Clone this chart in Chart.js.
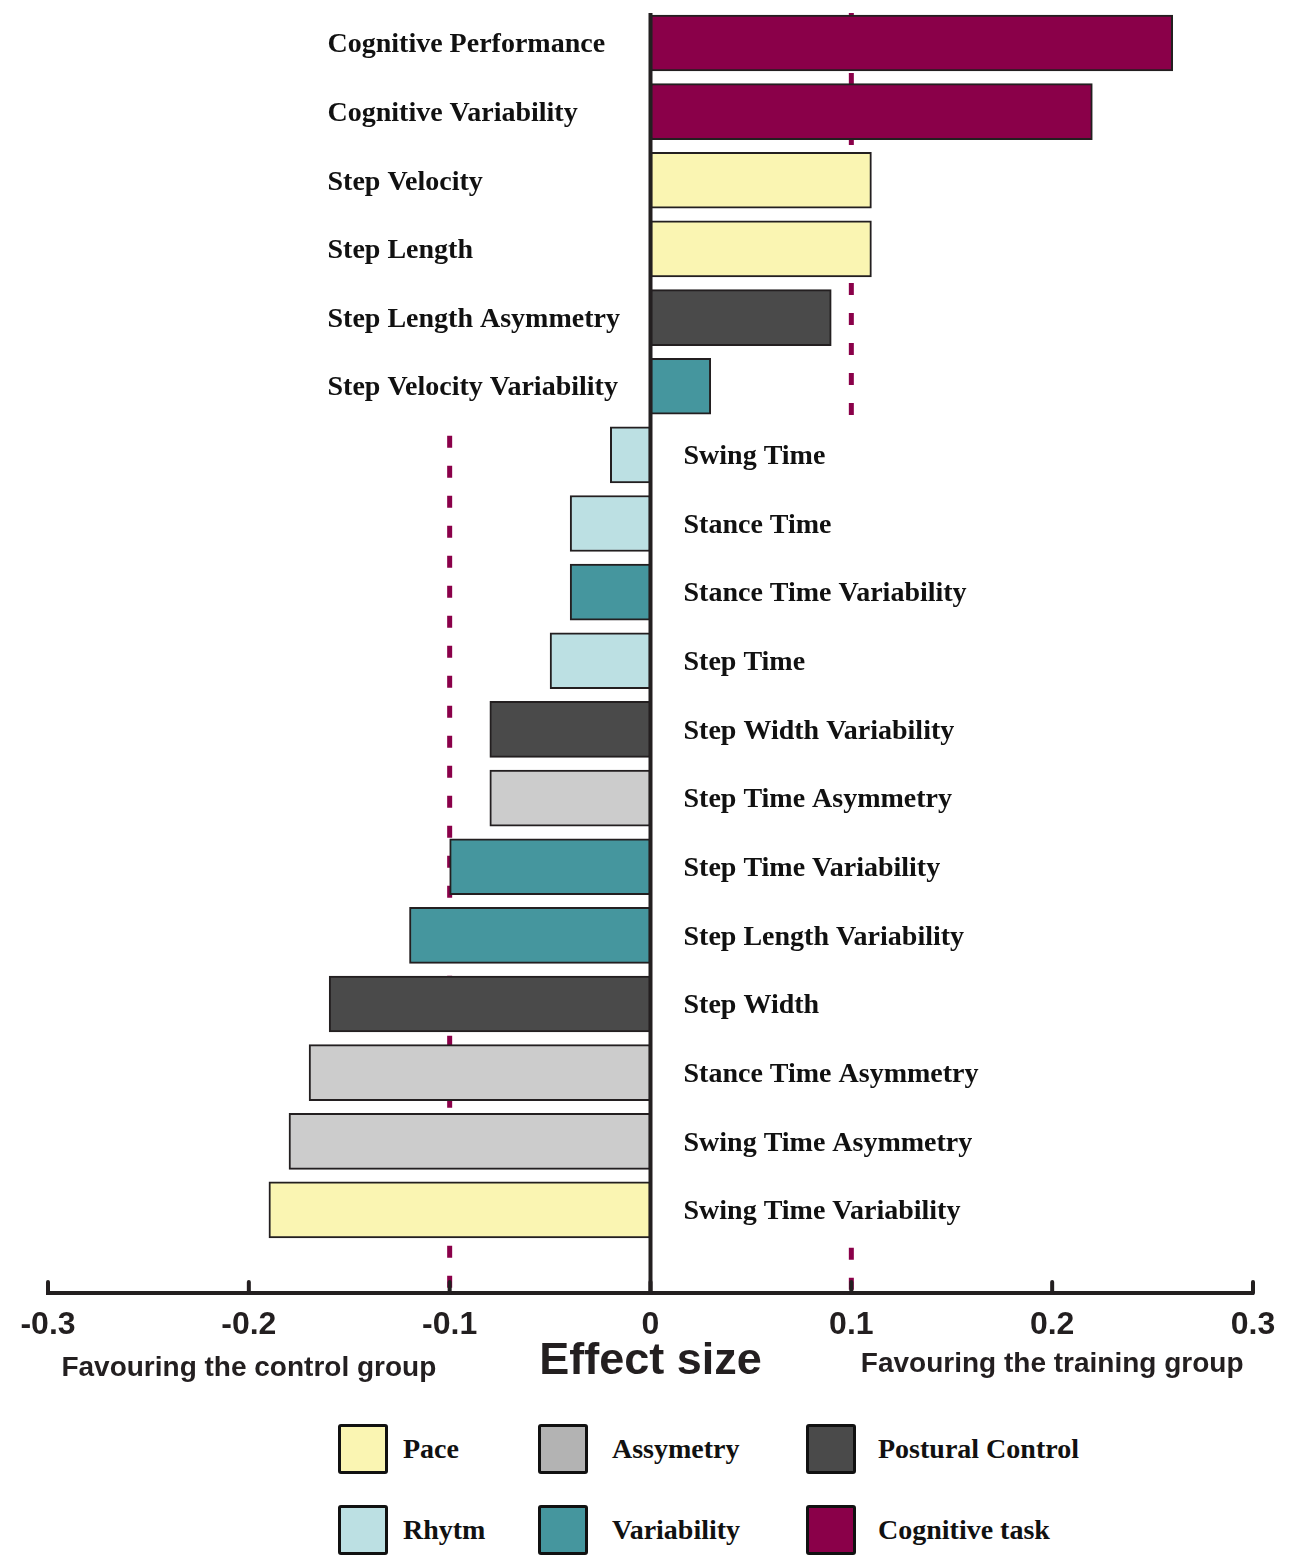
<!DOCTYPE html>
<html><head><meta charset="utf-8">
<script src="https://cdn.jsdelivr.net/npm/chart.js@4.4.0/dist/chart.umd.min.js"></script>
<style>
html,body{margin:0;padding:0;background:#fff;overflow:hidden;width:1289px;height:1555px;}
#wrap{position:absolute;left:0;top:0;width:1289px;height:1400px;}
.lt{position:absolute;font-family:"Liberation Serif","Times New Roman",serif;font-weight:bold;font-size:28px;color:#111;line-height:1;transform:translateY(-50%);white-space:nowrap;}
.lb{position:absolute;width:44px;height:44px;border:3px solid #111;border-radius:3px;}
</style></head><body>
<div id="wrap"><canvas id="c" width="1289" height="1400"></canvas></div>
<div id="legend"></div>
<script>
// ---- data ----
const categories = ['Cognitive Performance','Cognitive Variability','Step Velocity','Step Length','Step Length Asymmetry','Step Velocity Variability','Swing Time','Stance Time','Stance Time Variability','Step Time','Step Width Variability','Step Time Asymmetry','Step Time Variability','Step Length Variability','Step Width','Stance Time Asymmetry','Swing Time Asymmetry','Swing Time Variability'];
const effectSizes = [0.26,0.22,0.11,0.11,0.09,0.03,-0.02,-0.04,-0.04,-0.05,-0.08,-0.08,-0.10,-0.12,-0.16,-0.17,-0.18,-0.19];
const groups = ['Cognitive task','Cognitive task','Pace','Pace','Postural Control','Variability','Rhytm','Rhytm','Variability','Rhytm','Postural Control','Assymetry','Variability','Variability','Postural Control','Assymetry','Assymetry','Pace'];
const tickLabels = ['-0.3','-0.2','-0.1','0','0.1','0.2','0.3'];
const legendGroups = ['Pace','Assymetry','Postural Control','Rhytm','Variability','Cognitive task'];
const thresholds = [-0.1, 0.1];
const sideNotes = ['Favouring the control group','Favouring the training group'];
const axisTitle = 'Effect size';

// ---- styles ----
const groupColors = {'Cognitive task':'#8A0049','Pace':'#FAF5B2','Postural Control':'#4A4A4A','Variability':'#45969E','Rhytm':'#BCE0E3','Assymetry':'#CCCCCC'};
const legendColors = Object.assign({}, groupColors, {'Assymetry':'#B3B3B3'});
const INK = '#231F20';

const refPlugin = {
  id:'ref',
  beforeDatasetsDraw(chart){
    const {ctx, chartArea:a, scales:{x,y}} = chart;
    ctx.save();
    ctx.strokeStyle = '#8A0049'; ctx.lineWidth = 5; ctx.setLineDash([12,18]);
    const seg = (v,y0,y1)=>{const px=x.getPixelForValue(v); ctx.beginPath(); ctx.moveTo(px,y0); ctx.lineTo(px,y1); ctx.stroke();};
    seg(thresholds[1], a.top, y.getPixelForValue(5.5)-3);
    seg(thresholds[1], y.getPixelForValue(17.55), a.bottom);
    seg(thresholds[0], y.getPixelForValue(5.72), a.bottom);
    ctx.restore();
  },
  afterDatasetsDraw(chart){
    const {ctx, chartArea:a, scales:{x,y}} = chart;
    const zx = x.getPixelForValue(0);
    ctx.save();
    ctx.strokeStyle = INK; ctx.lineWidth = 4;
    ctx.beginPath(); ctx.moveTo(zx, a.top); ctx.lineTo(zx, a.bottom); ctx.stroke();
    ctx.fillStyle = '#111';
    ctx.font = 'bold 28px "Liberation Serif", "Times New Roman", serif';
    ctx.textBaseline = 'middle'; ctx.textAlign = 'left';
    categories.forEach((c,i)=>{
      const py = y.getPixelForValue(i) + 2;
      const px = effectSizes[i] >= 0 ? zx - 323 : zx + 33;
      ctx.fillText(c, px, py);
    });
    ctx.restore();
  },
  afterDraw(chart){
    const {ctx, chartArea:a, scales:{x}} = chart;
    ctx.save();
    ctx.strokeStyle = INK; ctx.lineWidth = 4; ctx.lineCap = 'round';
    x.ticks.forEach(t=>{
      const px = x.getPixelForValue(t.value);
      ctx.beginPath(); ctx.moveTo(px, a.bottom - 11); ctx.lineTo(px, a.bottom); ctx.stroke();
    });
    ctx.fillStyle = INK;
    ctx.font = 'bold 28px "Liberation Sans", Arial, sans-serif';
    ctx.textAlign = 'center'; ctx.textBaseline = 'middle';
    ctx.fillText(sideNotes[0], x.getPixelForValue(-0.2), a.bottom + 75);
    ctx.fillText(sideNotes[1], x.getPixelForValue(0.2), a.bottom + 71);
    ctx.restore();
  }
};

new Chart(document.getElementById('c'), {
  type:'bar',
  data:{ datasets:[{
    data: categories.map((c,i)=>({x:effectSizes[i], y:i})),
    backgroundColor: groups.map(g=>groupColors[g]),
    borderColor: INK, borderWidth: 2, borderSkipped: false,
    barThickness: 56
  }]},
  options:{
    indexAxis:'y', responsive:false, animation:false, devicePixelRatio:1,
    layout:{padding:{left:48,right:36,top:13,bottom:0}},
    plugins:{legend:{display:false}, tooltip:{enabled:false}},
    scales:{
      x:{type:'linear', min:-0.3, max:0.3,
        ticks:{stepSize:0.1, padding:13, color:INK, autoSkip:false, maxRotation:0,
          font:{family:'"Liberation Sans", Arial, sans-serif', weight:'bold', size:32},
          callback:(v,i)=>tickLabels[i]},
        grid:{display:false, drawTicks:false},
        border:{display:true, color:INK, width:4},
        title:{display:true, text:axisTitle, color:INK, padding:{top:0,bottom:11},
          font:{family:'"Liberation Sans", Arial, sans-serif', weight:'bold', size:45}},
        afterFit:(s)=>{ s.height = 107; }
      },
      y:{type:'linear', reverse:true, min:-0.437, max:18.21, display:false, offset:false, grid:{offset:false}}
    }
  },
  plugins:[refPlugin]
});

// ---- HTML legend ----
const legendCols = [[338,403],[538,612],[806,878]];
const legendRows = [1449,1530];
const lg = document.getElementById('legend');
legendGroups.forEach((g,i)=>{
  const col = legendCols[i%3], row = legendRows[Math.floor(i/3)];
  const b = document.createElement('div'); b.className='lb';
  b.style.left = col[0]+'px'; b.style.top = (row-25)+'px'; b.style.background = legendColors[g];
  const t = document.createElement('div'); t.className='lt';
  t.style.left = col[1]+'px'; t.style.top = row+'px'; t.textContent = g;
  lg.appendChild(b); lg.appendChild(t);
});
</script>
</body></html>
